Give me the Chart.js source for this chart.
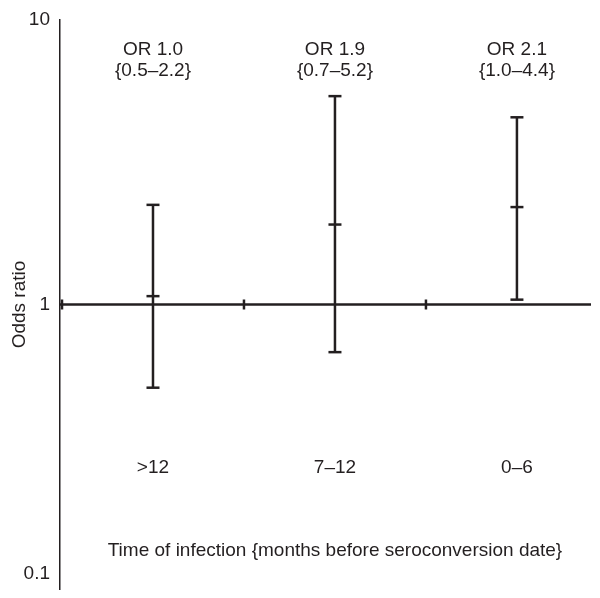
<!DOCTYPE html>
<html>
<head>
<meta charset="utf-8">
<script src="https://cdn.jsdelivr.net/npm/chart.js@4/dist/chart.umd.min.js"></script>
<style>
  body { margin: 0; background: #fff; }
  #wrap { width: 600px; height: 598px; }
</style>
</head>
<body>
<div id="wrap"><canvas id="myChart" width="600" height="598"></canvas></div>
<script>
// values
const categories = ['>12', '7–12', '0–6'];
const orText = ['OR 1.0', 'OR 1.9', 'OR 2.1'];
const ciText = ['{0.5–2.2}', '{0.7–5.2}', '{1.0–4.4}'];
const pointEst = [1.07, 1.91, 2.2];
const ciLow = [0.51, 0.68, 1.04];
const ciHigh = [2.24, 5.4, 4.55];
const yTicks = [10, 1, 0.1];
const yTickLabels = ['10', '1', '0.1'];
const xTitle = 'Time of infection {months before seroconversion date}';
const yTitle = 'Odds ratio';

var ink = '#231f20';
var font = '19px "Liberation Sans", Arial, Helvetica, sans-serif';
var xMin = -0.011, xMax = 2.907;

// stems: lo -> hi, null breaks the line between categories
var stems = [];
categories.forEach(function(c, i) {
  stems.push({x: i + 0.5, y: ciLow[i]});
  stems.push({x: i + 0.5, y: ciHigh[i]});
  stems.push({x: i + 0.5, y: null});
});
var caps = [];
categories.forEach(function(c, i) {
  caps.push({x: i + 0.5, y: ciLow[i]});
  caps.push({x: i + 0.5, y: ciHigh[i]});
});
var mids = categories.map(function(c, i) { return {x: i + 0.5, y: pointEst[i]}; });
var bounds = categories.map(function(c, i) { return {x: i, y: 1}; });

var textPlugin = {
  id: 'texts',
  afterDraw: function(chart) {
    var ctx = chart.ctx, xs = chart.scales.x, ys = chart.scales.y, area = chart.chartArea;
    ctx.save();
    ctx.fillStyle = ink;
    ctx.font = font;
    ctx.textAlign = 'center';
    ctx.textBaseline = 'middle';
    categories.forEach(function(c, i) {
      var cx = xs.getPixelForValue(i + 0.5);
      ctx.fillText(orText[i], cx, 50);
      ctx.fillText(ciText[i], cx, 71);
      ctx.fillText(c, cx, 468);
    });
    ctx.fillText(xTitle, xs.getPixelForValue(1.5), 551);

    // y tick labels
    ctx.textAlign = 'right';
    yTicks.forEach(function(v, i) {
      var py = Math.min(ys.getPixelForValue(v), area.bottom - 15);
      ctx.fillText(yTickLabels[i], area.left - 10, py);
    });

    // y title
    ctx.translate(20, (area.top + area.bottom) / 2);
    ctx.rotate(-Math.PI / 2);
    ctx.textAlign = 'center';
    ctx.fillText(yTitle, 0, 0);
    ctx.restore();
  }
};

var ctx = document.getElementById('myChart').getContext('2d');
var myChart = new Chart(ctx, {
  type: 'scatter',
  data: {
    datasets: [
      { // reference line at OR = 1
        data: [{x: xMin, y: 1}, {x: xMax, y: 1}],
        showLine: true, borderColor: ink, borderWidth: 2.5, pointRadius: 0
      },
      { // category boundary ticks on the reference line
        data: bounds, pointStyle: 'line', rotation: 90, pointRadius: 5,
        borderColor: ink, borderWidth: 2.5
      },
      {
        data: stems, showLine: true, spanGaps: false,
        borderColor: ink, borderWidth: 2.5, pointRadius: 0
      },
      {
        data: caps, pointStyle: 'line', pointRadius: 6.5,
        borderColor: ink, borderWidth: 2.5
      },
      {
        data: mids, pointStyle: 'line', pointRadius: 6.5,
        borderColor: ink, borderWidth: 2.5
      }
    ]
  },
  options: {
    responsive: false,
    animation: false,
    layout: { padding: { top: 20, left: 0, right: 0, bottom: 0 } },
    plugins: { legend: { display: false }, tooltip: { enabled: false } },
    scales: {
      x: { type: 'linear', min: xMin, max: xMax, display: false },
      y: {
        type: 'logarithmic', min: 0.1, max: 10,
        grid: { drawOnChartArea: false, drawTicks: false },
        border: { display: true, color: ink, width: 1.5 },
        ticks: { display: false },
        afterFit: function(s) { s.width = 60; }
      }
    }
  },
  plugins: [textPlugin]
});
</script>
</body>
</html>
